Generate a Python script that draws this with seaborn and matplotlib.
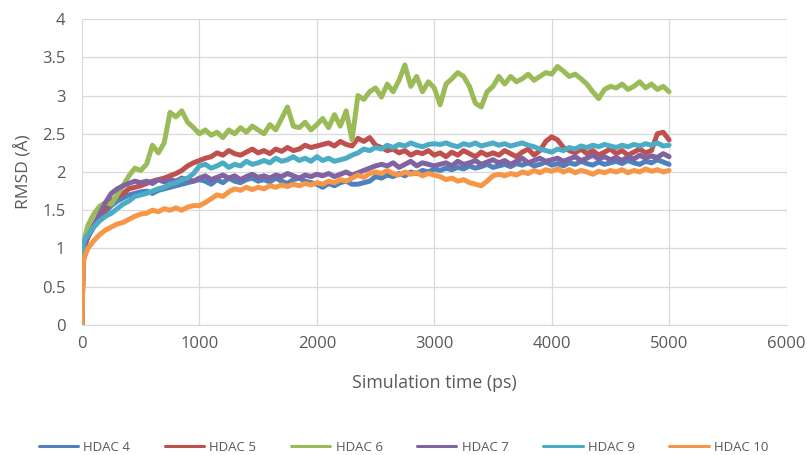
import matplotlib
matplotlib.use("Agg")
import matplotlib.pyplot as plt
import seaborn as sns
import pandas as pd


# time points (ps)
time_ps = [0, 10, 25] + list(range(50, 5001, 50))

hdac4 = [0, 0.95, 1.05,
         1.15, 1.28, 1.38, 1.48, 1.56, 1.62, 1.66, 1.70, 1.72, 1.74,
         1.75, 1.72, 1.76, 1.78, 1.80, 1.82, 1.84, 1.86, 1.88, 1.90,
         1.88, 1.84, 1.90, 1.86, 1.92, 1.88, 1.86, 1.90, 1.92, 1.88,
         1.90, 1.87, 1.92, 1.88, 1.85, 1.90, 1.92, 1.88, 1.86, 1.84,
         1.80, 1.85, 1.82, 1.86, 1.88, 1.84, 1.84, 1.86, 1.88, 1.94,
         1.92, 1.96, 1.94, 1.98, 1.95, 2.00, 1.98, 2.02, 2.00, 2.04,
         2.02, 2.05, 2.03, 2.06, 2.04, 2.08, 2.05, 2.07, 2.10, 2.06,
         2.08, 2.10, 2.07, 2.11, 2.09, 2.12, 2.08, 2.10, 2.13, 2.09,
         2.11, 2.08, 2.12, 2.10, 2.14, 2.11, 2.09, 2.13, 2.10, 2.12,
         2.14, 2.11, 2.15, 2.12, 2.10, 2.14, 2.12, 2.16, 2.13, 2.10]

hdac5 = [0, 0.92, 1.05,
         1.15, 1.30, 1.40, 1.52, 1.62, 1.68, 1.72, 1.78, 1.80, 1.82,
         1.85, 1.88, 1.90, 1.92, 1.95, 1.98, 2.02, 2.08, 2.12, 2.15,
         2.18, 2.20, 2.25, 2.22, 2.28, 2.24, 2.22, 2.26, 2.30, 2.25,
         2.28, 2.24, 2.30, 2.27, 2.32, 2.28, 2.30, 2.35, 2.32, 2.34,
         2.36, 2.38, 2.34, 2.40, 2.36, 2.34, 2.44, 2.40, 2.45, 2.35,
         2.32, 2.28, 2.30, 2.25, 2.28, 2.22, 2.26, 2.24, 2.28, 2.22,
         2.25, 2.20, 2.26, 2.22, 2.28, 2.24, 2.20, 2.26, 2.22, 2.25,
         2.22, 2.28, 2.24, 2.20, 2.26, 2.30, 2.22, 2.28, 2.40, 2.46,
         2.42, 2.32, 2.28, 2.25, 2.30, 2.24, 2.28, 2.22, 2.26, 2.30,
         2.24, 2.28, 2.22, 2.26, 2.30, 2.25, 2.28, 2.50, 2.52, 2.42]

hdac6 = [0, 0.95, 1.15,
         1.30, 1.45, 1.55, 1.60, 1.58, 1.70, 1.82, 1.95, 2.05, 2.02,
         2.10, 2.35, 2.25, 2.38, 2.78, 2.72, 2.80, 2.65, 2.58, 2.50,
         2.55, 2.48, 2.52, 2.45, 2.55, 2.50, 2.58, 2.52, 2.60, 2.55,
         2.50, 2.62, 2.55, 2.70, 2.85, 2.60, 2.58, 2.65, 2.55, 2.62,
         2.70, 2.58, 2.75, 2.60, 2.80, 2.42, 3.00, 2.95, 3.05, 3.10,
         2.98, 3.15, 3.05, 3.20, 3.40, 3.12, 3.25, 3.05, 3.18, 3.10,
         2.88, 3.15, 3.22, 3.30, 3.25, 3.12, 2.90, 2.85, 3.05, 3.12,
         3.25, 3.15, 3.25, 3.18, 3.22, 3.28, 3.20, 3.25, 3.30, 3.28,
         3.38, 3.32, 3.25, 3.28, 3.22, 3.15, 3.05, 2.96, 3.08, 3.12,
         3.10, 3.15, 3.08, 3.12, 3.18, 3.10, 3.15, 3.08, 3.12, 3.05]

hdac7 = [0, 0.95, 1.05,
         1.15, 1.30, 1.45, 1.60, 1.72, 1.78, 1.82, 1.85, 1.88, 1.86,
         1.88, 1.85, 1.90, 1.87, 1.90, 1.88, 1.92, 1.90, 1.88, 1.92,
         1.95, 1.90, 1.93, 1.96, 1.92, 1.95, 1.90, 1.94, 1.97, 1.93,
         1.95, 1.92, 1.96, 1.94, 1.98, 1.95, 1.92, 1.96, 1.94, 1.97,
         1.95, 1.98, 1.94, 1.97, 2.00, 1.96, 1.99, 2.02, 2.05, 2.08,
         2.10, 2.08, 2.12, 2.06, 2.10, 2.14, 2.08, 2.12, 2.10, 2.08,
         2.10, 2.12, 2.08, 2.14, 2.10, 2.12, 2.15, 2.10, 2.13, 2.16,
         2.12, 2.15, 2.10, 2.14, 2.18, 2.12, 2.15, 2.18, 2.14, 2.16,
         2.18, 2.14, 2.17, 2.20, 2.15, 2.18, 2.22, 2.17, 2.20, 2.16,
         2.19, 2.15, 2.20, 2.17, 2.22, 2.18, 2.21, 2.19, 2.24, 2.20]

hdac9 = [0, 1.05, 1.12,
         1.18, 1.28, 1.36, 1.42, 1.46, 1.52, 1.58, 1.62, 1.68, 1.70,
         1.72, 1.75, 1.78, 1.80, 1.84, 1.86, 1.90, 1.92, 1.98, 2.08,
         2.10, 2.05, 2.08, 2.12, 2.06, 2.10, 2.08, 2.14, 2.10, 2.12,
         2.15, 2.12, 2.18, 2.14, 2.16, 2.20, 2.15, 2.18, 2.14, 2.20,
         2.15, 2.18, 2.14, 2.16, 2.18, 2.22, 2.25, 2.30, 2.28, 2.32,
         2.30, 2.35, 2.32, 2.36, 2.34, 2.38, 2.35, 2.33, 2.36, 2.37,
         2.36, 2.38, 2.35, 2.33, 2.37, 2.35, 2.38, 2.34, 2.36, 2.38,
         2.35, 2.37, 2.34, 2.36, 2.38, 2.35, 2.33, 2.30, 2.28, 2.26,
         2.30, 2.28, 2.32, 2.30, 2.34, 2.32, 2.35, 2.33, 2.36, 2.34,
         2.32, 2.35, 2.33, 2.36, 2.34, 2.37, 2.35, 2.38, 2.34, 2.35]

hdac10 = [0, 0.80, 0.90,
          1.00, 1.10, 1.18, 1.24, 1.28, 1.32, 1.34, 1.38, 1.42, 1.45,
          1.46, 1.50, 1.48, 1.52, 1.50, 1.53, 1.50, 1.54, 1.56, 1.56,
          1.60, 1.65, 1.70, 1.68, 1.74, 1.78, 1.76, 1.80, 1.77, 1.80,
          1.78, 1.82, 1.80, 1.83, 1.81, 1.84, 1.82, 1.85, 1.83, 1.86,
          1.84, 1.88, 1.86, 1.90, 1.88, 1.92, 1.96, 1.93, 1.98, 2.00,
          1.98, 2.02, 1.98, 1.96, 2.00, 1.97, 1.99, 1.95, 1.98, 1.96,
          1.94, 1.90, 1.92, 1.88, 1.90, 1.86, 1.84, 1.82, 1.88, 1.95,
          1.97, 1.95, 1.98, 1.96, 2.00, 1.98, 2.02, 1.99, 2.03, 2.01,
          2.04, 2.00, 2.03, 1.99, 2.02, 2.00, 1.97, 2.01, 1.99, 2.02,
          2.00, 2.03, 1.99, 2.02, 2.00, 2.04, 2.01, 2.03, 2.00, 2.02]

names = ["HDAC 4", "HDAC 5", "HDAC 6", "HDAC 7", "HDAC 9", "HDAC 10"]
series = [hdac4, hdac5, hdac6, hdac7, hdac9, hdac10]
colors = ["#4F81BD", "#C0504D", "#9BBB59", "#8064A2", "#4BACC6", "#F79646"]

rows = []
for name, vals in zip(names, series):
    for t, v in zip(time_ps, vals):
        rows.append({"time": t, "rmsd": v, "system": name})
df = pd.DataFrame(rows)

sns.set_style("white")
plt.rcParams["font.family"] = ["Open Sans", "DejaVu Sans"]
text_color = "#595959"
grid_color = "#D9D9D9"

fig = plt.figure(figsize=(8.07, 4.55), dpi=100)
ax = fig.add_axes([0.1016, 0.286, 0.873, 0.672])

sns.lineplot(data=df, x="time", y="rmsd", hue="system", hue_order=names,
             palette=colors, linewidth=3.6, ax=ax, legend=False,
             estimator=None, sort=False)

ax.set_xlim(0, 6000)
ax.set_ylim(0, 4)
ax.set_xticks(range(0, 6001, 1000))
ax.set_yticks([0, 0.5, 1, 1.5, 2, 2.5, 3, 3.5, 4])
ax.set_yticklabels(["0", "0.5", "1", "1.5", "2", "2.5", "3", "3.5", "4"])
ax.grid(True, color=grid_color, linewidth=0.9)
ax.set_axisbelow(True)
for side in ["top", "right", "left"]:
    ax.spines[side].set_visible(False)
ax.spines["bottom"].set_color(grid_color)
ax.tick_params(axis="both", length=0, labelsize=12, colors=text_color)
ax.tick_params(axis="x", pad=8)
ax.tick_params(axis="y", pad=12)

ax.set_xlabel("Simulation time (ps)", fontsize=12.8, color=text_color, labelpad=16)
ax.set_ylabel("RMSD (Å)", fontsize=12.5, color=text_color, labelpad=7)

handles = [plt.Line2D([], [], color=c, linewidth=2.2) for c in colors]
fig.legend(handles, names, loc="center", bbox_to_anchor=(0.5, 0.017),
           ncol=6, frameon=False, fontsize=9.5, handlelength=3.0,
           handletextpad=0.4, columnspacing=2.6, labelcolor=text_color)

fig.savefig("out.png", dpi=100)
